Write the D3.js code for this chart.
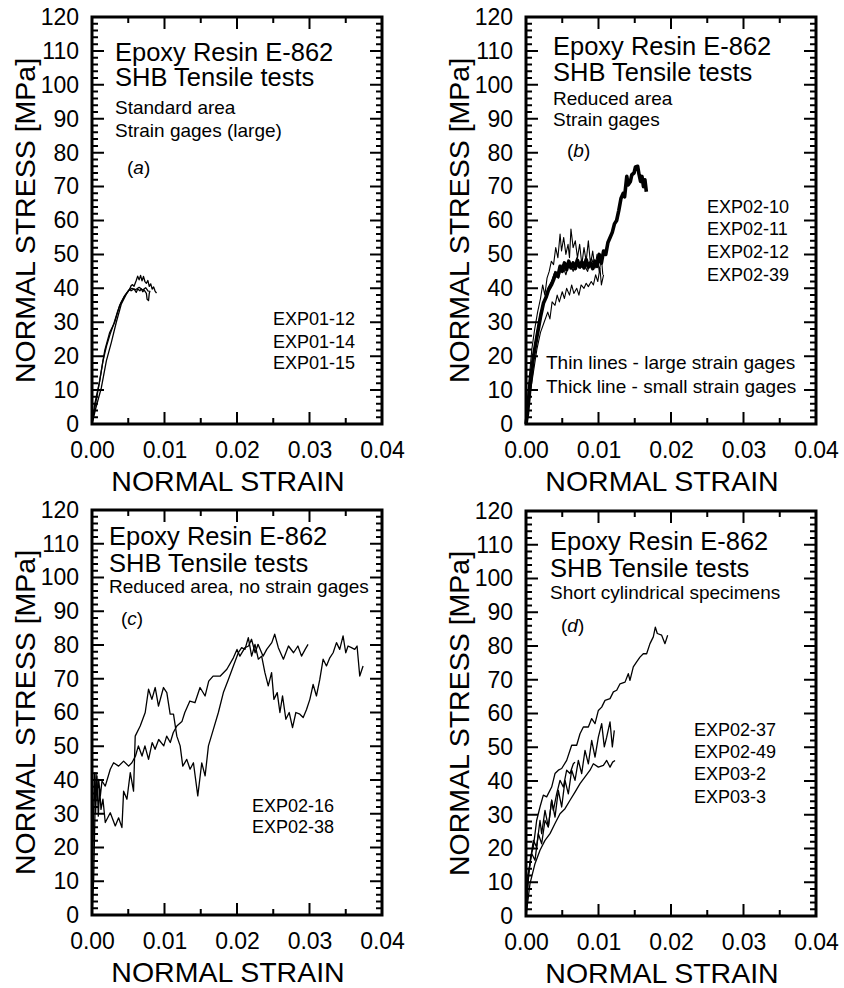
<!DOCTYPE html>
<html><head><meta charset="utf-8">
<script src="https://cdn.jsdelivr.net/npm/d3@7/dist/d3.min.js"></script>
<style>
html,body{margin:0;padding:0;background:#fff;}
svg text{font-family:"Liberation Sans",Arial,Helvetica,sans-serif;fill:#000;}
</style></head>
<body><svg id="chart" width="844" height="988"></svg>
<script>
// ---------- axis ticks ----------
const strainTicks = [0, 0.01, 0.02, 0.03, 0.04];
const strainMinorTicks = [0.005, 0.015, 0.025, 0.035];
const stressTicks = [0,10,20,30,40,50,60,70,80,90,100,110,120];
const stressMinorTicks = [2,4,6,8,12,14,16,18,22,24,26,28,32,34,36,38,42,44,46,48,52,54,56,58,62,64,66,68,72,74,76,78,82,84,86,88,92,94,96,98,102,104,106,108,112,114,116,118];
const xTitle = "NORMAL STRAIN";
const yTitle = "NORMAL STRESS [MPa]";
const titleLines = ["Epoxy Resin E-862", "SHB Tensile tests"];

// ---------- panel texts ----------
const subA = ["Standard area", "Strain gages (large)"];
const subB = ["Reduced area", "Strain gages"];
const subC = ["Reduced area, no strain gages"];
const subD = ["Short cylindrical specimens"];
const legendA = ["EXP01-12", "EXP01-14", "EXP01-15"];
const legendB = ["EXP02-10", "EXP02-11", "EXP02-12", "EXP02-39"];
const legendC = ["EXP02-16", "EXP02-38"];
const legendD = ["EXP02-37", "EXP02-49", "EXP03-2", "EXP03-3"];
const notesB = ["Thin lines - large strain gages", "Thick line - small strain gages"];

// ---------- data: [strain, stress MPa] ----------
const serA1 = [[0,0],[0.00037,5.8],[0.00106,12.7],[0.00175,21.6],[0.00244,27],[0.00313,30],[0.0038,34.9],[0.0045,37.8],[0.0052,39.8],[0.0054,40.8],[0.0056,41.1],[0.0058,40.6],[0.0061,42.3],[0.0063,43.6],[0.0065,42.5],[0.0067,43.8],[0.0069,42.2],[0.0071,43.5],[0.0073,42],[0.0075,41.5],[0.0077,42.3],[0.0079,40.6],[0.0081,41.3],[0.0083,39.8],[0.0085,40.4],[0.0087,39.2],[0.0089,38.6]];
const serA2 = [[0,0],[0.0005,4.5],[0.00129,10.7],[0.00198,18.6],[0.00266,24],[0.00335,30],[0.00405,35.4],[0.00473,38.3],[0.0052,39.8],[0.0054,39.3],[0.0058,39.8],[0.0061,38.8],[0.0063,39.8],[0.0066,39.3],[0.0068,39.8],[0.007,39],[0.0072,39.5],[0.0075,38.5],[0.0076,36.8],[0.0078,36.4],[0.0079,38.5],[0.008,39.3]];
const serA3 = [[0,0],[0.0005,6],[0.001,12],[0.0015,18.5],[0.002,23],[0.0025,26.5],[0.003,29.5],[0.0035,33],[0.004,35.8],[0.0045,37.8],[0.005,39.2],[0.0055,40],[0.006,39.6],[0.0065,40.3],[0.007,39.5],[0.0074,40.2],[0.0078,39]];

const serB1 = [[0,0],[0.0003,10],[0.0008,22],[0.0012,28],[0.0016,33],[0.002,37],[0.0023,41],[0.0026,38],[0.0029,43],[0.0032,45],[0.0035,48],[0.0038,47],[0.0041,52],[0.0044,49],[0.0047,56],[0.0049,51],[0.0052,55],[0.0055,50],[0.0058,53],[0.006,49],[0.0062,57.5],[0.0065,52],[0.0068,54],[0.0071,49],[0.0074,53],[0.0077,47],[0.008,52],[0.0083,48],[0.0086,54],[0.0089,47],[0.0092,51],[0.0095,46],[0.0098,50],[0.0101,45],[0.0104,49],[0.0106,44]];
const serB2 = [[0,0],[0.0004,9],[0.001,20],[0.0015,27],[0.002,33],[0.0025,36],[0.003,40],[0.0035,42],[0.004,45],[0.0045,43],[0.005,47],[0.0055,44],[0.006,48],[0.0065,45],[0.007,49],[0.0075,46],[0.008,47],[0.0085,45],[0.009,49],[0.0095,46],[0.01,48],[0.0105,47]];
const serB3 = [[0,0],[0.0005,8],[0.001,15],[0.0015,22],[0.002,27],[0.0025,30],[0.003,33],[0.0033,31],[0.0036,36],[0.004,35],[0.0043,38],[0.0046,36],[0.005,39],[0.0053,37],[0.0056,40],[0.006,38],[0.0063,41],[0.0066,38.5],[0.007,40],[0.0073,38],[0.0076,41],[0.008,40],[0.0083,41.5],[0.0086,40.5],[0.009,42],[0.0093,41],[0.0096,44],[0.0099,42],[0.0102,46],[0.0104,41],[0.0107,44]];
const serB4 = [[0,0],[0.0002,3],[0.0006,12],[0.001,19.5],[0.0015,25.7],[0.002,31.6],[0.0024,35.6],[0.0028,37.5],[0.0031,39.5],[0.0035,41],[0.0038,42.5],[0.0041,44.5],[0.0044,43.5],[0.0047,46.5],[0.005,45],[0.0053,47.5],[0.0056,45.5],[0.0059,48],[0.0062,46],[0.0065,47.5],[0.0068,45.8],[0.0071,48.3],[0.0074,46.3],[0.0077,47.8],[0.008,46],[0.0083,48.5],[0.0086,46.2],[0.0089,47.5],[0.0092,45.8],[0.0095,48],[0.0098,46.5],[0.0101,50],[0.0104,47.5],[0.0107,51],[0.011,50],[0.0113,53.5],[0.0116,55],[0.0119,56.5],[0.0122,59],[0.0125,60],[0.0128,63],[0.0131,66.5],[0.0134,68],[0.0136,67],[0.0139,73],[0.0141,70.5],[0.0144,71.5],[0.0146,73.5],[0.0149,74],[0.0151,75.8],[0.0154,76],[0.0156,73.5],[0.0158,71.5],[0.016,73],[0.0162,70],[0.0164,72],[0.0166,68.5]];

const serC1 = [[0,0],[0.00023,10.6],[0.00041,30.3],[0.00055,42.2],[0.00073,34.3],[0.00092,40.2],[0.00115,35.3],[0.00138,39.7],[0.00183,38.2],[0.00252,43.2],[0.00298,45.1],[0.00367,44.1],[0.00436,45.6],[0.00505,44.1],[0.0055,45.1],[0.006,47.1],[0.0064,50.1],[0.0069,47.1],[0.0073,50.1],[0.0078,46.1],[0.0083,51.1],[0.0087,49.1],[0.0092,52],[0.0099,50.1],[0.0103,53],[0.0108,51.1],[0.0112,54],[0.0117,56],[0.0124,57.3],[0.0128,60],[0.0135,63.4],[0.0142,62.9],[0.0149,67.4],[0.0156,64.9],[0.0161,69.3],[0.0167,70.8],[0.0177,70.8],[0.0186,72.8],[0.0195,76.2],[0.02,78.7],[0.0204,76.7],[0.0211,79.2],[0.0216,79.7],[0.022,81.7],[0.0225,77.7],[0.0229,80.2],[0.0236,76.7],[0.0241,78.7],[0.0248,80.7],[0.0252,83.2],[0.0257,79.2],[0.0264,75.8],[0.0271,79.7],[0.0278,77.7],[0.0284,79.7],[0.0289,76.7],[0.0294,78.7],[0.0298,80.2]];
const serC2 = [[0,0],[0.00014,20.4],[0.00032,42.2],[0.0005,30.3],[0.00069,41.2],[0.00087,29.3],[0.00106,37.2],[0.00124,31.3],[0.00151,34.3],[0.00183,27.4],[0.00252,30.3],[0.00321,26.4],[0.00367,28.8],[0.00413,25.9],[0.00436,36.7],[0.00482,34.3],[0.00528,42.2],[0.00573,36.7],[0.00596,53],[0.00665,56],[0.00734,60],[0.0078,66.9],[0.00826,63.9],[0.00872,67.4],[0.00917,61.9],[0.00986,67.4],[0.01032,65.9],[0.01078,59.5],[0.01124,59.5],[0.0117,53],[0.01216,50.1],[0.01252,44.1],[0.01307,46.1],[0.01353,43.2],[0.01399,45.1],[0.01459,35.3],[0.01514,45.1],[0.0156,41.2],[0.01606,50.1],[0.01674,55],[0.01743,60],[0.01812,65.9],[0.01881,69.8],[0.0195,73.8],[0.02018,77.7],[0.02064,79.2],[0.0211,78.7],[0.02156,82.2],[0.02202,76.7],[0.02248,80.2],[0.02294,75.8],[0.0234,76.7],[0.02385,71.8],[0.02431,67.9],[0.02477,71.8],[0.02509,63.9],[0.02555,65.9],[0.02592,60],[0.02628,64.9],[0.02674,58],[0.0272,60],[0.02766,55.5],[0.02812,60],[0.02867,59.5],[0.02913,58.5],[0.02959,60.9],[0.03005,63.9],[0.0305,68.3],[0.03096,64.9],[0.03142,69.8],[0.03188,75.8],[0.03234,73.8],[0.0328,76.2],[0.03326,77.7],[0.03372,80.7],[0.03417,78.7],[0.03463,82.7],[0.035,77.7],[0.03532,79.7],[0.03578,79.2],[0.03624,78.7],[0.03656,79.7],[0.03693,70.8],[0.03739,73.8]];

const serD1 = [[0,0],[0.00032,10.6],[0.00064,17.5],[0.00101,20.4],[0.00147,28.3],[0.00193,32.3],[0.00239,35.8],[0.00285,35.3],[0.00354,38.2],[0.004,42.2],[0.00446,43.2],[0.00492,43.7],[0.00561,46.1],[0.0063,50.6],[0.00699,50.6],[0.00745,54],[0.00791,56],[0.0086,56],[0.00906,58.5],[0.00952,57],[0.00998,60.9],[0.01044,61.9],[0.0109,63.9],[0.01159,64.4],[0.01205,66.4],[0.01251,66.9],[0.01297,68.8],[0.01366,69.3],[0.01411,71.8],[0.01434,69.8],[0.0148,73.8],[0.01526,75.3],[0.01572,76.7],[0.01618,77.7],[0.01664,77.7],[0.0171,80.7],[0.01756,82.7],[0.01784,85.6],[0.01811,83.7],[0.01871,83.2],[0.01917,80.7],[0.01954,83.2]];
const serD2 = [[0,0],[0.00018,10.6],[0.00055,15.5],[0.00101,22.4],[0.00147,20.4],[0.00193,28.3],[0.00216,24.4],[0.00262,31.3],[0.00308,26.4],[0.00354,34.3],[0.004,29.3],[0.00446,37.2],[0.00492,32.3],[0.00538,40.2],[0.00584,36.2],[0.0063,43.2],[0.00676,40.2],[0.00722,46.1],[0.00768,42.2],[0.00814,49.1],[0.0086,45.1],[0.00906,52],[0.00952,47.1],[0.00998,53],[0.01044,57],[0.0108,50.1],[0.01113,53],[0.01159,57.5],[0.01191,50.1],[0.01218,55]];
const serD3 = [[0,0],[0.00055,9.6],[0.00124,15.5],[0.00193,19.5],[0.00262,22.4],[0.00331,24.4],[0.004,27.4],[0.00469,30.3],[0.00538,31.8],[0.00607,34.3],[0.00676,36.7],[0.00745,39.2],[0.00814,41.2],[0.00883,43.2],[0.00929,45.1],[0.00998,44.1],[0.01067,44.6],[0.01113,46.1],[0.01159,44.1],[0.01195,45.6],[0.01228,46.1]];
const serD4 = [[0,0],[0.00032,12.5],[0.00078,18.5],[0.00124,16.5],[0.0017,24.4],[0.00216,21.4],[0.00262,28.3],[0.00308,26.4],[0.00354,34.3],[0.00377,31.3],[0.00423,36.2],[0.00469,40.2],[0.00515,38.2],[0.00561,43.2],[0.00607,42.2],[0.00653,45.1],[0.00676,45.6]];

// ---------- layout (positions relative to each frame) ----------
const FW = 290;
const panels = [
  {left:92, top:17, bottom:424, letter:"a", subs:subA, legend:legendA,
   series:[{d:serA1,w:1.3},{d:serA2,w:1.3},{d:serA3,w:1.3}],
   tx:23, tb:[44,69], sb:[97,120], lx:35, lb:157, gx:181, gb:[308,331,352]},
  {left:526, top:17, bottom:424, letter:"b", subs:subB, legend:legendB,
   series:[{d:serB1,w:1.1},{d:serB2,w:1.1},{d:serB3,w:1.1},{d:serB4,w:3.6}],
   tx:27, tb:[38,64], sb:[88,109], lx:41, lb:140, gx:181, gb:[196,218,241,264],
   notes:notesB, nx:20, nb:[352,376]},
  {left:92, top:510, bottom:915, letter:"c", subs:subC, legend:legendC,
   series:[{d:serC1,w:1.3},{d:serC2,w:1.3}],
   tx:17, tb:[35,62], sb:[83], lx:29, lb:115, gx:160, gb:[302,323]},
  {left:526, top:511, bottom:916, letter:"d", subs:subD, legend:legendD,
   series:[{d:serD1,w:1.3},{d:serD2,w:1.3},{d:serD3,w:1.3},{d:serD4,w:1.3}],
   tx:24, tb:[39,66], sb:[88], lx:35, lb:121, gx:168, gb:[225,247,269,292]}
];

const svg = d3.select("#chart");
const frameLayer = svg.append("g").attr("class","frames");
const dataLayer = svg.append("g").attr("class","curves");
const textLayer = svg.append("g").attr("class","labels");

panels.forEach(p => {
  const right = p.left + FW;
  const x = d3.scaleLinear().domain([0, 0.04]).range([p.left, right]);
  const y = d3.scaleLinear().domain([0, 120]).range([p.bottom, p.top]);

  // inward ticks on all four sides, from the scales
  const tickD = [
    stressTicks.map(v => `M${p.left},${y(v)}L${p.left+12},${y(v)}M${right},${y(v)}L${right-12},${y(v)}`).join(""),
    stressMinorTicks.map(v => `M${p.left},${y(v)}L${p.left+6},${y(v)}M${right},${y(v)}L${right-6},${y(v)}`).join(""),
    strainTicks.map(v => `M${x(v)},${p.bottom}L${x(v)},${p.bottom-12}M${x(v)},${p.top}L${x(v)},${p.top+12}`).join(""),
    strainMinorTicks.map(v => `M${x(v)},${p.bottom}L${x(v)},${p.bottom-6}M${x(v)},${p.top}L${x(v)},${p.top+6}`).join("")
  ];
  frameLayer.selectAll(null).data(tickD).join("path")
    .attr("d", d => d)
    .style("fill","none").style("stroke","black").style("stroke-width","2px");
  // frame
  frameLayer.append("path")
    .attr("d", `M${p.left},${p.top}L${right},${p.top}L${right},${p.bottom}L${p.left},${p.bottom}Z`)
    .style("fill","none").style("stroke","black").style("stroke-width","3px");

  // data curves
  const lineGen = d3.line().x(d => x(d[0])).y(d => y(d[1]));
  p.series.forEach(s => {
    dataLayer.append("path").datum(s.d).attr("d", lineGen)
      .attr("fill","none").attr("stroke","#000")
      .attr("stroke-width", s.w).attr("stroke-linejoin","round");
  });

  // tick labels via d3 axes
  const labelStyle = s => {
    s.select(".domain").remove();
    s.selectAll(".tick line").remove();
    s.selectAll("text").attr("font-size",23).attr("font-family","Liberation Sans, Arial, sans-serif").attr("fill","#000");
  };
  textLayer.append("g").attr("transform",`translate(0,${p.bottom})`)
    .call(d3.axisBottom(x).tickValues(strainTicks).tickSize(0).tickPadding(17.5).tickFormat(d3.format(".2f")))
    .call(labelStyle);
  textLayer.append("g").attr("transform",`translate(${p.left},0)`)
    .call(d3.axisLeft(y).tickValues(stressTicks).tickSize(0).tickPadding(13).tickFormat(d3.format("d")))
    .call(labelStyle);

  // titles and annotations
  const g = textLayer.append("g");
  g.append("text").attr("x", p.left + FW/2 - 9).attr("y", p.bottom + 67)
    .attr("text-anchor","middle").attr("font-size",28.5).text(xTitle);
  g.append("text").attr("transform",`translate(${p.left-57},${(p.top+p.bottom)/2}) rotate(-90)`)
    .attr("text-anchor","middle").attr("font-size",28.5).text(yTitle);
  titleLines.forEach((t,i) => g.append("text").attr("x",p.left+p.tx).attr("y",p.top+p.tb[i])
    .attr("font-size",25.5).text(t));
  p.subs.forEach((t,i) => g.append("text").attr("x",p.left+p.tx).attr("y",p.top+p.sb[i])
    .attr("font-size",19).text(t));
  const lt = g.append("text").attr("x",p.left+p.lx).attr("y",p.top+p.lb).attr("font-size",19);
  lt.append("tspan").text("(");
  lt.append("tspan").attr("font-style","italic").text(p.letter);
  lt.append("tspan").text(")");
  p.legend.forEach((t,i) => g.append("text").attr("x",p.left+p.gx).attr("y",p.top+p.gb[i])
    .attr("font-size",18).text(t));
  if (p.notes) p.notes.forEach((t,i) => g.append("text").attr("x",p.left+p.nx).attr("y",p.top+p.nb[i])
    .attr("font-size",19).text(t));
});
</script></body></html>
